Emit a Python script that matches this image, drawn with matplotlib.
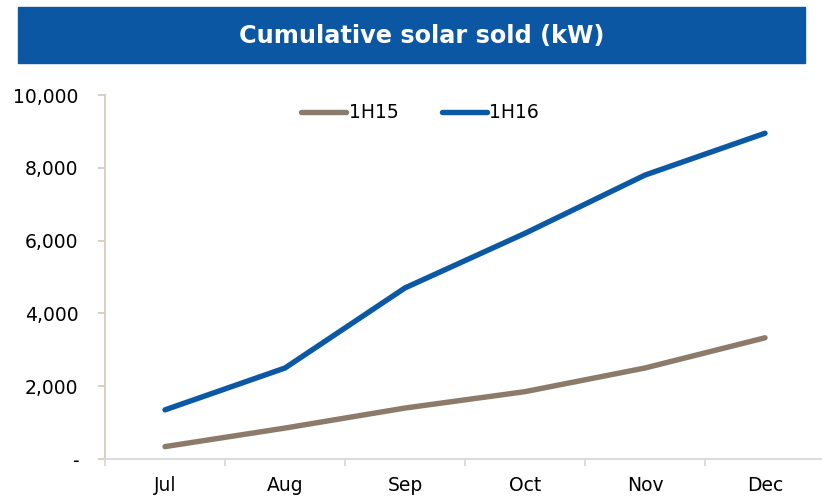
import matplotlib.pyplot as plt
from matplotlib.patches import Rectangle
from matplotlib.ticker import FuncFormatter, FixedLocator

# Data
months = ['Jul', 'Aug', 'Sep', 'Oct', 'Nov', 'Dec']
sold_1h15 = [340, 850, 1400, 1850, 2500, 3330]
sold_1h16 = [1350, 2500, 4700, 6200, 7800, 8950]
series_names = ['1H15', '1H16']

BROWN = '#8C7B6B'
BLUE = '#0B59A5'
W, H = 822, 498

fig = plt.figure(figsize=(W / 100, H / 100), dpi=100)
plt.rcParams['font.family'] = 'DejaVu Sans'

# title banner
fig.patches.append(Rectangle((18 / W, 1 - 63 / H), (805 - 18) / W, (63 - 7) / H,
                             transform=fig.transFigure, color='#0B57A3', zorder=0))
fig.text(422 / W, 1 - 36 / H, 'Cumulative solar sold (kW)', color='white',
         fontsize=17.3, fontweight='bold', ha='center', va='center')

# axes: 6 categories, 120 px each, starting at x=105
ax = fig.add_axes([105 / W, 1 - 459 / H, 720 / W, 364 / H])
x = range(len(months))
ax.plot(x, sold_1h15, color=BROWN, lw=3.9, solid_capstyle='round', label=series_names[0])
ax.plot(x, sold_1h16, color=BLUE, lw=3.9, solid_capstyle='round', label=series_names[1])

ax.set_xlim(-0.5, len(months) - 0.5)
ax.set_ylim(0, 10000)
ax.set_yticks(range(0, 10001, 2000))
ax.yaxis.set_major_formatter(FuncFormatter(lambda v, p: '-' if v == 0 else f'{v:,.0f}'))
ax.set_xticks(list(x))
ax.set_xticklabels(months)
ax.xaxis.set_minor_locator(FixedLocator([i - 0.5 for i in range(len(months) + 1)]))

for s in ['top', 'right']:
    ax.spines[s].set_visible(False)
ax.spines['left'].set_color('#D6CDBE')
ax.spines['bottom'].set_color('#D9D9D9')
ax.spines['left'].set_linewidth(1.3)
ax.spines['bottom'].set_linewidth(1.3)
ax.spines['bottom'].set_clip_on(False)

ax.tick_params(axis='y', length=5, width=1.3, color='#D6CDBE', labelsize=13.5, pad=14)
ax.tick_params(axis='x', which='major', length=0, labelsize=13.5, pad=12)
ax.tick_params(axis='x', which='minor', length=5, width=1.3, color='#D9D9D9')

leg = fig.legend(loc='center', bbox_to_anchor=(420 / W, 1 - 113 / H), ncol=2, frameon=False,
                 fontsize=13.5, handlelength=2.4, handletextpad=0.15, columnspacing=2.3)

fig.savefig('out.png', dpi=100)
